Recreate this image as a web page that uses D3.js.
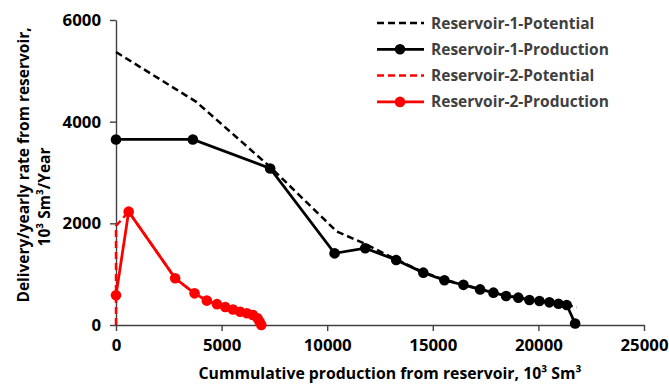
<!DOCTYPE html>
<html>
<head>
<meta charset="utf-8">
<script src="https://cdn.jsdelivr.net/npm/d3@7"></script>
<style>
  body { margin: 0; background: #fff; }
  text { font-family: "Open Sans", sans-serif; font-weight: bold; }
</style>
</head>
<body>
<div id="chart"></div>
<script>
// series
const r1PotX = [0, 3800, 7300, 10450, 11720, 13265, 14550, 15550, 16450, 17240, 17870, 18470, 19050, 19575, 20050, 20520, 20950, 21340, 21820];
const r1PotY = [5370, 4390, 3110, 1840, 1610, 1290, 1040, 890, 795, 705, 640, 575, 540, 495, 475, 450, 422, 395, 350];

const r1ProdX = [0, 3640, 7300, 10350, 11800, 13265, 14550, 15550, 16450, 17240, 17870, 18470, 19050, 19575, 20050, 20520, 20950, 21340, 21740];
const r1ProdY = [3650, 3650, 3080, 1410, 1510, 1280, 1030, 880, 790, 700, 636, 571, 538, 492, 472, 446, 419, 393, 30];

const r2PotX = [0, 0, 600, 2800, 3720, 4300, 4780, 5170, 5540, 5880, 6200, 6480, 6700, 6800, 6880];
const r2PotY = [0, 1950, 2230, 920, 623, 480, 410, 355, 305, 262, 230, 197, 131, 66, 0];

const r2ProdX = [0, 600, 2800, 3720, 4300, 4780, 5170, 5540, 5880, 6200, 6480, 6700, 6800, 6880];
const r2ProdY = [585, 2230, 920, 623, 480, 410, 355, 305, 262, 230, 197, 131, 66, 0];

const xTicks = [0, 5000, 10000, 15000, 20000, 25000];
const yTicks = [0, 2000, 4000, 6000];

const seriesNames = ["Reservoir-1-Potential", "Reservoir-1-Production", "Reservoir-2-Potential", "Reservoir-2-Production"];

const W = 669, H = 385;
const margin = { top: 20, right: 25, bottom: 60, left: 116 };
const width = W - margin.left - margin.right,
      height = H - margin.top - margin.bottom;

const svg = d3.select("#chart")
  .append("svg")
  .attr("width", W)
  .attr("height", H);

const g = svg.append("g")
  .attr("transform", "translate(" + margin.left + "," + margin.top + ")");

const x = d3.scaleLinear().domain([0, 25000]).range([0, width]);
const y = d3.scaleLinear().domain([0, 6000]).range([height, 0]);

// axes
const xAxis = g.append("g")
  .attr("transform", "translate(0," + height + ")")
  .call(d3.axisBottom(x).tickValues(xTicks).tickSize(6).tickSizeOuter(0).tickFormat(d3.format("d")));
const yAxis = g.append("g")
  .call(d3.axisLeft(y).tickValues(yTicks).tickSize(6).tickSizeOuter(0).tickFormat(d3.format("d")));

[xAxis, yAxis].forEach(a => {
  a.select(".domain").attr("stroke", "#404040").attr("stroke-width", 1.4);
  a.selectAll(".tick line").attr("stroke", "#404040").attr("stroke-width", 1.4);
  a.selectAll(".tick text")
    .attr("fill", "#000")
    .style("font-size", "16.8px")
    .style("font-family", "'Open Sans', sans-serif")
    .style("font-weight", "bold");
});
xAxis.selectAll(".tick text").attr("dy", "1.0em");
yAxis.selectAll(".tick text").attr("x", -15);

const line = d3.line().x(d => x(d[0])).y(d => y(d[1]));
const zip = (xs, ys) => xs.map((v, i) => [v, ys[i]]);

function drawSeries(data, color, dashed, markers) {
  g.append("path")
    .datum(data)
    .attr("fill", "none")
    .attr("stroke", color)
    .attr("stroke-width", dashed ? 2.5 : 2.8)
    .attr("stroke-dasharray", dashed ? "7,4" : null)
    .attr("d", line);
  if (markers) {
    g.selectAll(null)
      .data(data)
      .enter()
      .append("circle")
      .attr("cx", d => x(d[0]))
      .attr("cy", d => y(d[1]))
      .attr("r", 5.3)
      .attr("fill", color);
  }
}

drawSeries(zip(r1PotX, r1PotY), "#000", true, false);
drawSeries(zip(r1ProdX, r1ProdY), "#000", false, true);
drawSeries(zip(r2PotX, r2PotY), "#ff0000", true, false);
drawSeries(zip(r2ProdX, r2ProdY), "#ff0000", false, true);

// legend
const legendColors = ["#000", "#000", "#ff0000", "#ff0000"];
const legend = svg.append("g");
seriesNames.forEach((name, i) => {
  const ly = 23 + i * 26.3;
  const dashed = i % 2 === 0;
  legend.append("line")
    .attr("x1", 377).attr("x2", 424)
    .attr("y1", ly).attr("y2", ly)
    .attr("stroke", legendColors[i])
    .attr("stroke-width", dashed ? 2.5 : 2.8)
    .attr("stroke-dasharray", dashed ? "7,4" : null);
  if (!dashed) {
    legend.append("circle").attr("cx", 400).attr("cy", ly).attr("r", 5.3).attr("fill", legendColors[i]);
  }
  legend.append("text")
    .attr("x", 431).attr("y", ly)
    .attr("dy", "0.36em")
    .attr("fill", "#404040")
    .style("font-size", "15.5px")
    .text(name);
});

// axis titles
svg.append("text")
  .attr("x", 390).attr("y", 379)
  .attr("text-anchor", "middle")
  .attr("fill", "#000")
  .style("font-size", "15.8px")
  .text("Cummulative production from reservoir, 10³ Sm³");

svg.append("text")
  .attr("transform", "translate(29,165) rotate(-90)")
  .attr("text-anchor", "middle")
  .attr("fill", "#000")
  .style("font-size", "15.5px")
  .text("Delivery/yearly rate from reservoir,");

svg.append("text")
  .attr("transform", "translate(50,197) rotate(-90)")
  .attr("text-anchor", "middle")
  .attr("fill", "#000")
  .style("font-size", "15.5px")
  .text("10³ Sm³/Year");
</script>
</body>
</html>
